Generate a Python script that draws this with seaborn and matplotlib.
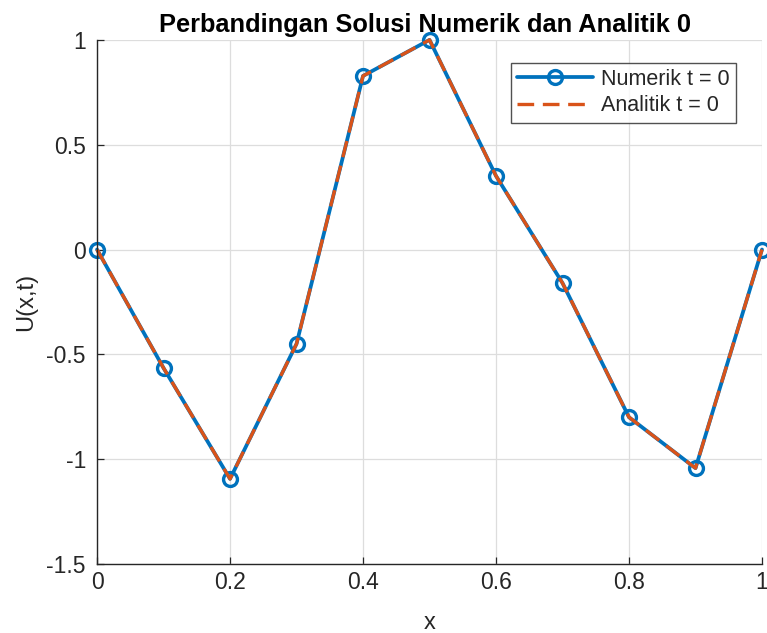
import numpy as np
import pandas as pd
import matplotlib
matplotlib.use("Agg")
import matplotlib.pyplot as plt
import seaborn as sns

x_vals = [0.0, 0.1, 0.2, 0.3, 0.4, 0.5, 0.6, 0.7, 0.8, 0.9, 1.0]
numerik = [0.0, -0.565, -1.094, -0.45, 0.828, 1.0, 0.351, -0.16, -0.80, -1.043, 0.0]
analitik = [0.0, -0.565, -1.094, -0.45, 0.828, 1.0, 0.351, -0.16, -0.80, -1.043, 0.0]
x_ticks = [0, 0.2, 0.4, 0.6, 0.8, 1]
x_ticklabels = ["0", "0.2", "0.4", "0.6", "0.8", "1"]
y_ticks = [-1.5, -1, -0.5, 0, 0.5, 1]
y_ticklabels = ["-1.5", "-1", "-0.5", "0", "0.5", "1"]

sns.set_theme(style="white")
plt.rcParams['font.family'] = ['Liberation Sans', 'DejaVu Sans']

df_num = pd.DataFrame({"x": x_vals, "u": numerik})
df_ana = pd.DataFrame({"x": x_vals, "u": analitik})

fig = plt.figure(figsize=(7.67, 6.33), dpi=100)
ax = fig.add_axes([0.1265, 0.109, 0.867, 0.828])

sns.lineplot(data=df_num, x="x", y="u", ax=ax, color="#0072BD", linewidth=2.7,
             marker="o", markersize=10, markerfacecolor="none",
             markeredgecolor="#0072BD", markeredgewidth=2.4,
             label="Numerik t = 0", clip_on=False)
sns.lineplot(data=df_ana, x="x", y="u", ax=ax, color="#D95319", linewidth=2.4,
             linestyle=(0, (5, 2.6)), label="Analitik t = 0", clip_on=False)

ax.set_xlim(0, 1)
ax.set_ylim(-1.5, 1)
ax.set_xticks(x_ticks)
ax.set_xticklabels(x_ticklabels)
ax.set_yticks(y_ticks)
ax.set_yticklabels(y_ticklabels)
ax.grid(True, color="#dddddd", linewidth=0.9)
ax.set_axisbelow(True)
for s in ["top", "right"]:
    ax.spines[s].set_visible(False)
for s in ["left", "bottom"]:
    ax.spines[s].set_color("#262626")
    ax.spines[s].set_linewidth(1.0)
ax.tick_params(axis="both", direction="in", length=5, width=0.9,
               colors="#262626", labelsize=16.5, pad=5,
               bottom=True, left=True)
ax.tick_params(axis="y", pad=8)
ax.set_xlabel("x", fontsize=17, color="#262626", labelpad=13)
ax.set_ylabel("U(x,t)", fontsize=17, color="#262626", labelpad=7)
ax.set_title("Perbandingan Solusi Numerik dan Analitik 0", fontsize=18.3,
             fontweight="bold", color="black", pad=6, x=0.493)

leg = ax.legend(loc="upper right", bbox_to_anchor=(0.968, 0.965), fontsize=15.5,
                frameon=True, fancybox=False, edgecolor="#262626",
                handlelength=3.5, borderpad=0.3, labelspacing=0.25,
                handletextpad=0.4, borderaxespad=0.2)
leg.get_frame().set_linewidth(1.0)

fig.savefig("out.png", dpi=100)
